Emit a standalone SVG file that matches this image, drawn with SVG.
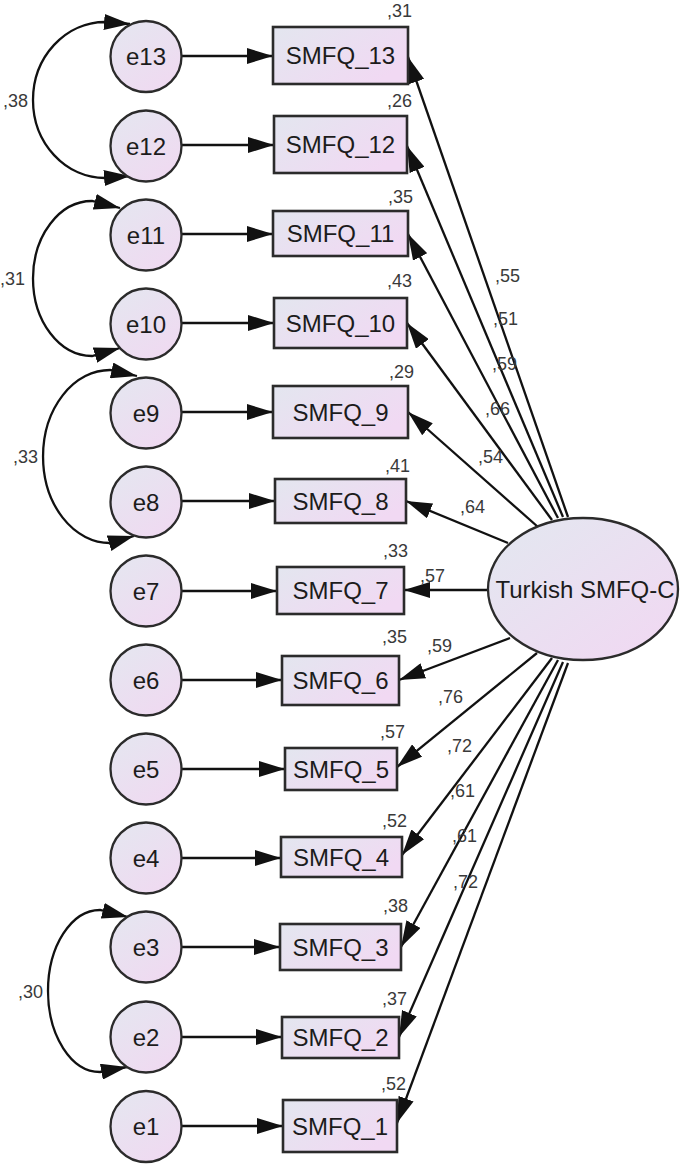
<svg xmlns="http://www.w3.org/2000/svg" width="685" height="1165" viewBox="0 0 685 1165">
<defs>
<linearGradient id="gBox" x1="0" y1="0" x2="1" y2="0.6">
<stop offset="0" stop-color="#e3e6ef"/>
<stop offset="1" stop-color="#f1d9f3"/>
</linearGradient>
<linearGradient id="gCirc" x1="0.15" y1="0" x2="0.85" y2="1">
<stop offset="0" stop-color="#e5e6f0"/>
<stop offset="1" stop-color="#f0d9f1"/>
</linearGradient>
<linearGradient id="gEll" x1="0.1" y1="0.1" x2="0.9" y2="0.9">
<stop offset="0" stop-color="#e4e6f0"/>
<stop offset="1" stop-color="#f0d9f2"/>
</linearGradient>
<marker id="ah" viewBox="0 0 26 16" refX="26" refY="8" markerWidth="26" markerHeight="16" markerUnits="userSpaceOnUse" orient="auto">
<path d="M0,0L26,8L0,16z" fill="#111"/>
</marker>
<marker id="ah2" viewBox="0 0 26 16" refX="26" refY="8" markerWidth="26" markerHeight="16" markerUnits="userSpaceOnUse" orient="auto-start-reverse">
<path d="M0,0L26,8L0,16z" fill="#111"/>
</marker>
</defs>
<style>
.box{fill:url(#gBox);stroke:#2b2b2b;stroke-width:2.6}
.circ{fill:url(#gCirc);stroke:#2b2b2b;stroke-width:2.3}
.ell{fill:url(#gEll);stroke:#2b2b2b;stroke-width:2.3}
.t{font-family:"Liberation Sans",Arial,sans-serif;font-size:24px;fill:#1c1c1c;text-anchor:middle}
.s{font-family:"Liberation Sans",Arial,sans-serif;font-size:18px;fill:#3a3a3a}
.r{text-anchor:end}
.ln{stroke:#111;stroke-width:2.3;fill:none;marker-end:url(#ah)}
.arc{stroke:#111;stroke-width:2.3;fill:none;marker-start:url(#ah2);marker-end:url(#ah2)}
</style>
<rect width="685" height="1165" fill="#fff"/>

<g id="connectors">
<line class="ln" x1="182" y1="56" x2="273" y2="56"/>
<line class="ln" x1="182" y1="145" x2="274" y2="145"/>
<line class="ln" x1="182" y1="234" x2="273" y2="234"/>
<line class="ln" x1="182" y1="323" x2="274" y2="323"/>
<line class="ln" x1="182" y1="412" x2="273" y2="412"/>
<line class="ln" x1="182" y1="501" x2="275" y2="501"/>
<line class="ln" x1="182" y1="591" x2="277" y2="591"/>
<line class="ln" x1="182" y1="680" x2="282" y2="680"/>
<line class="ln" x1="182" y1="769" x2="285" y2="769"/>
<line class="ln" x1="182" y1="858" x2="281" y2="858"/>
<line class="ln" x1="182" y1="947" x2="280" y2="947"/>
<line class="ln" x1="182" y1="1037" x2="282" y2="1037"/>
<line class="ln" x1="182" y1="1126" x2="283" y2="1126"/>
<line class="ln" x1="568" y1="517" x2="408" y2="57"/>
<line class="ln" x1="563" y1="517" x2="407" y2="146"/>
<line class="ln" x1="558" y1="518" x2="408" y2="234"/>
<line class="ln" x1="552" y1="520" x2="407" y2="323"/>
<line class="ln" x1="538" y1="527" x2="408" y2="412"/>
<line class="ln" x1="508" y1="543" x2="406" y2="501"/>
<line class="ln" x1="488" y1="590" x2="404" y2="590"/>
<line class="ln" x1="510" y1="638" x2="399" y2="680"/>
<line class="ln" x1="537" y1="653" x2="397" y2="767"/>
<line class="ln" x1="552" y1="658" x2="402" y2="855"/>
<line class="ln" x1="558" y1="660" x2="401" y2="947"/>
<line class="ln" x1="563" y1="662" x2="399" y2="1037"/>
<line class="ln" x1="568" y1="663" x2="397" y2="1123"/>
<path class="arc" d="M130,24 L105,22 A72,78 0 0 0 105,178 L130,176"/>
<path class="arc" d="M120,208 L92,201 A59,77.5 0 0 0 92,356 L120,348"/>
<path class="arc" d="M137,376 L110,370 A67,86.5 0 0 0 110,543 L134,536"/>
<path class="arc" d="M128,917 L100,910 A52,81 0 0 0 100,1072 L127,1067"/>
<text class="s" x="3" y="107">,38</text>
<text class="s" x="0" y="285">,31</text>
<text class="s" x="13" y="463">,33</text>
<text class="s" x="18" y="998">,30</text>
<text class="s" x="495" y="282">,55</text>
<text class="s" x="493" y="325">,51</text>
<text class="s" x="492" y="370">,59</text>
<text class="s" x="485" y="415">,66</text>
<text class="s" x="478" y="463">,54</text>
<text class="s" x="460" y="513">,64</text>
<text class="s" x="420" y="582">,57</text>
<text class="s" x="427" y="652">,59</text>
<text class="s" x="438" y="703">,76</text>
<text class="s" x="447" y="752">,72</text>
<text class="s" x="450" y="797">,61</text>
<text class="s" x="452" y="842">,61</text>
<text class="s" x="453" y="888">,72</text>
</g>

<g id="latent">
<ellipse class="ell" cx="583" cy="589" rx="95" ry="71"/>
<text class="t" x="585" y="598">Turkish SMFQ-C</text>
</g>

<g id="e13"><circle class="circ" cx="146" cy="56.5" r="35.5"/><text class="t" x="146" y="65">e13</text></g>
<g id="e12"><circle class="circ" cx="146" cy="146" r="35.5"/><text class="t" x="146" y="154.5">e12</text></g>
<g id="e11"><circle class="circ" cx="146" cy="235" r="35.5"/><text class="t" x="146" y="243.5">e11</text></g>
<g id="e10"><circle class="circ" cx="146" cy="324" r="35.5"/><text class="t" x="146" y="332.5">e10</text></g>
<g id="e9"><circle class="circ" cx="146" cy="413" r="35.5"/><text class="t" x="146" y="421.5">e9</text></g>
<g id="e8"><circle class="circ" cx="146" cy="502" r="35.5"/><text class="t" x="146" y="510.5">e8</text></g>
<g id="e7"><circle class="circ" cx="146" cy="591" r="35.5"/><text class="t" x="146" y="599.5">e7</text></g>
<g id="e6"><circle class="circ" cx="146" cy="680" r="35.5"/><text class="t" x="146" y="688.5">e6</text></g>
<g id="e5"><circle class="circ" cx="146" cy="769" r="35.5"/><text class="t" x="146" y="777.5">e5</text></g>
<g id="e4"><circle class="circ" cx="146" cy="858" r="35.5"/><text class="t" x="146" y="866.5">e4</text></g>
<g id="e3"><circle class="circ" cx="146" cy="947" r="35.5"/><text class="t" x="146" y="955.5">e3</text></g>
<g id="e2"><circle class="circ" cx="146" cy="1037" r="35.5"/><text class="t" x="146" y="1045.5">e2</text></g>
<g id="e1"><circle class="circ" cx="146" cy="1126.5" r="35.5"/><text class="t" x="146" y="1135">e1</text></g>

<g id="SMFQ_13"><rect class="box" x="273" y="27" width="135" height="57"/><text class="t" x="340.5" y="64">SMFQ_13</text><text class="s r" x="412" y="17">,31</text></g>
<g id="SMFQ_12"><rect class="box" x="274" y="116" width="133" height="57"/><text class="t" x="340.5" y="153">SMFQ_12</text><text class="s r" x="412" y="107">,26</text></g>
<g id="SMFQ_11"><rect class="box" x="273" y="211" width="135" height="45"/><text class="t" x="340.5" y="242">SMFQ_11</text><text class="s r" x="413" y="203">,35</text></g>
<g id="SMFQ_10"><rect class="box" x="274" y="298" width="133" height="50"/><text class="t" x="340.5" y="331.5">SMFQ_10</text><text class="s r" x="412" y="287">,43</text></g>
<g id="SMFQ_9"><rect class="box" x="273" y="386" width="135" height="52"/><text class="t" x="340.5" y="420.5">SMFQ_9</text><text class="s r" x="414" y="378">,29</text></g>
<g id="SMFQ_8"><rect class="box" x="275" y="479" width="131" height="44"/><text class="t" x="340.5" y="509.5">SMFQ_8</text><text class="s r" x="410" y="472">,41</text></g>
<g id="SMFQ_7"><rect class="box" x="277" y="567" width="127" height="47"/><text class="t" x="340.5" y="599">SMFQ_7</text><text class="s r" x="408" y="557">,33</text></g>
<g id="SMFQ_6"><rect class="box" x="282" y="656" width="117" height="49"/><text class="t" x="340.5" y="689">SMFQ_6</text><text class="s r" x="407" y="643">,35</text></g>
<g id="SMFQ_5"><rect class="box" x="285" y="748" width="112" height="42"/><text class="t" x="341" y="777.5">SMFQ_5</text><text class="s r" x="405" y="738">,57</text></g>
<g id="SMFQ_4"><rect class="box" x="281" y="837" width="121" height="40"/><text class="t" x="341" y="865.5">SMFQ_4</text><text class="s r" x="407" y="827">,52</text></g>
<g id="SMFQ_3"><rect class="box" x="280" y="924" width="121" height="46"/><text class="t" x="340.5" y="955.5">SMFQ_3</text><text class="s r" x="408" y="912">,38</text></g>
<g id="SMFQ_2"><rect class="box" x="282" y="1017" width="117" height="41"/><text class="t" x="340.5" y="1046">SMFQ_2</text><text class="s r" x="407" y="1005">,37</text></g>
<g id="SMFQ_1"><rect class="box" x="283" y="1100" width="114" height="52"/><text class="t" x="340" y="1134.5">SMFQ_1</text><text class="s r" x="406" y="1090">,52</text></g>
</svg>
